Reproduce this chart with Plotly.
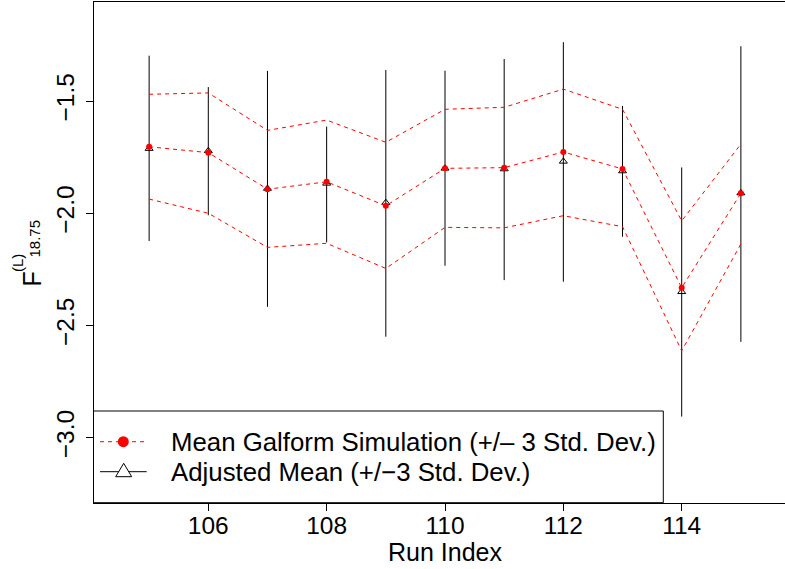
import plotly.graph_objects as go

# ---- data ----
runs = [105, 106, 107, 108, 109, 110, 111, 112, 113, 114, 115]
sim_mean = [-1.704, -1.730, -1.893, -1.860, -1.967, -1.800, -1.797, -1.727, -1.803, -2.332, -1.911]
sim_upper = [-1.470, -1.464, -1.631, -1.585, -1.684, -1.537, -1.528, -1.447, -1.537, -2.034, -1.692]
sim_lower = [-1.937, -2.000, -2.152, -2.134, -2.246, -2.063, -2.065, -2.011, -2.060, -2.613, -2.137]
adj_mean = [-1.712, -1.722, -1.890, -1.867, -1.953, -1.800, -1.803, -1.769, -1.812, -2.350, -1.910]
adj_upper = [-1.298, -1.438, -1.366, -1.614, -1.362, -1.365, -1.313, -1.238, -1.522, -1.796, -1.256]
adj_lower = [-2.124, -2.009, -2.417, -2.130, -2.550, -2.234, -2.298, -2.305, -2.105, -2.906, -2.573]
x_ticks = [106, 108, 110, 112, 114]
y_ticks = [-3.0, -2.5, -2.0, -1.5]
legend_labels = ["Mean Galform Simulation (+/\u2013 3 Std. Dev.)", "Adjusted Mean (+/\u22123 Std. Dev.)"]

FONT = "Liberation Sans, Arial, sans-serif"
W, H = 785, 569
ML, MR, MT, MB = 94, 0, 2, 66
PW, PH = W - ML - MR, H - MT - MB

def px(xp):
    return (xp - ML) / PW

def py(yp):
    return (H - MB - yp) / PH

fig = go.Figure()

err_plus = [u - m for u, m in zip(adj_upper, adj_mean)]
err_minus = [m - l for m, l in zip(adj_mean, adj_lower)]

fig.add_trace(go.Scatter(
    x=runs, y=adj_mean, mode="markers",
    marker=dict(symbol="triangle-up-open", size=7, color="black", line=dict(width=1, color="black")),
    error_y=dict(type="data", symmetric=False, array=err_plus, arrayminus=err_minus,
                 color="black", thickness=1, width=0),
    showlegend=False, cliponaxis=False))

for band in (sim_upper, sim_lower):
    fig.add_trace(go.Scatter(
        x=runs, y=band, mode="lines",
        line=dict(color="red", width=1, dash="4px,4px"),
        showlegend=False))

fig.add_trace(go.Scatter(
    x=runs, y=sim_mean, mode="lines+markers",
    line=dict(color="red", width=1, dash="4px,4px"),
    marker=dict(symbol="circle", size=6, color="red"),
    showlegend=False))

shapes = []
annotations = []

# manual legend (R-style box in the bottom-left corner)
shapes.append(dict(type="rect", xref="paper", yref="paper",
                   x0=px(93.5), x1=px(663.3), y0=py(502.7), y1=py(411),
                   line=dict(color="black", width=1), fillcolor="white", layer="above"))
shapes.append(dict(type="line", xref="paper", yref="paper",
                   x0=px(100), x1=px(146.7), y0=py(441.7), y1=py(441.7),
                   line=dict(color="red", width=1, dash="4px,4px"), layer="above"))
shapes.append(dict(type="circle", xref="paper", yref="paper",
                   xsizemode="pixel", ysizemode="pixel",
                   xanchor=px(123.3), yanchor=py(441.7),
                   x0=-5.5, x1=5.5, y0=-5.5, y1=5.5,
                   fillcolor="red", line=dict(color="red", width=0), layer="above"))
shapes.append(dict(type="line", xref="paper", yref="paper",
                   x0=px(100), x1=px(146.7), y0=py(471.7), y1=py(471.7),
                   line=dict(color="black", width=1), layer="above"))
shapes.append(dict(type="path", xref="paper", yref="paper",
                   xsizemode="pixel", ysizemode="pixel",
                   xanchor=px(123.7), yanchor=py(471.7),
                   path="M -8 -5 L 8 -5 L 0 8.4 Z",
                   fillcolor="white", line=dict(color="black", width=1), layer="above"))

for lbl, yy in zip(legend_labels, [441.7, 472.0]):
    annotations.append(dict(text=lbl, xref="paper", yref="paper", x=px(169), y=py(yy),
                            xanchor="left", yanchor="middle", showarrow=False,
                            font=dict(family=FONT, size=25.8, color="black")))

# x-axis title
annotations.append(dict(text="Run Index", xref="paper", yref="paper", x=px(445), y=py(552),
                        xanchor="center", yanchor="middle", showarrow=False,
                        font=dict(family=FONT, size=25, color="black")))
# y-axis title F^(L)_18.75 with stacked super/subscript
annotations.append(dict(text="F", xref="paper", yref="paper", x=px(31), y=py(279.5),
                        xanchor="center", yanchor="middle", showarrow=False, textangle=-90,
                        font=dict(family=FONT, size=25, color="black")))
annotations.append(dict(text="(L)", xref="paper", yref="paper", x=px(17), y=py(263),
                        xanchor="center", yanchor="middle", showarrow=False, textangle=-90,
                        font=dict(family=FONT, size=15, color="black")))
annotations.append(dict(text="18.75", xref="paper", yref="paper", x=px(34.5), y=py(239),
                        xanchor="center", yanchor="middle", showarrow=False, textangle=-90,
                        font=dict(family=FONT, size=15, color="black")))

x0 = 106 - (208.3 - ML) / 59.175
x1 = x0 + PW / 59.175
y1 = -1.5 + (101 - MT) / 224.47
y0 = y1 - PH / 224.47

fig.update_layout(
    width=W, height=H,
    margin=dict(l=ML, r=MR, t=MT, b=MB, autoexpand=False),
    paper_bgcolor="white", plot_bgcolor="white",
    showlegend=False,
    shapes=shapes, annotations=annotations,
    xaxis=dict(range=[x0, x1], tickvals=x_ticks, ticks="outside", ticklen=7, tickwidth=1,
               tickcolor="black", showline=True, linecolor="black", linewidth=1, mirror=True,
               showgrid=False, zeroline=False, automargin=False, ticklabelstandoff=-6,
               tickfont=dict(family=FONT, size=24.5, color="black")),
    yaxis=dict(range=[y0, y1], tickvals=y_ticks, tickformat=".1f", tickangle=-90,
               ticks="outside", ticklen=7, tickwidth=1, tickcolor="black",
               showline=True, linecolor="black", linewidth=1, mirror=False,
               showgrid=False, zeroline=False, automargin=False, ticklabelstandoff=2,
               tickfont=dict(family=FONT, size=24.5, color="black")),
)

fig.write_html("out.html", config={"displayModeBar": False},
               post_script="document.body.style.margin='0';document.body.style.padding='0';")
